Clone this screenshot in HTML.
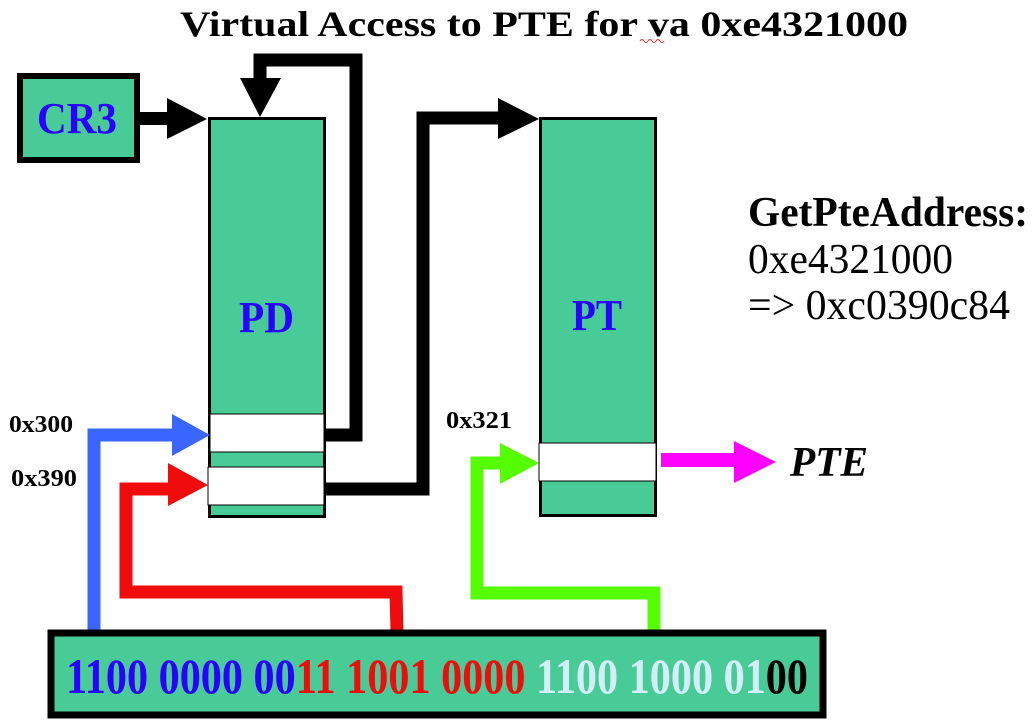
<!DOCTYPE html>
<html><head><meta charset="utf-8"><style>
html,body{margin:0;padding:0;background:#fff;}
svg{display:block;}
text{font-family:"Liberation Serif",serif;}
</style></head><body>
<svg width="1036" height="728" viewBox="0 0 1036 728" xmlns="http://www.w3.org/2000/svg">
<!-- Title -->
<text x="180" y="36" font-size="36" font-weight="bold" textLength="728" lengthAdjust="spacingAndGlyphs">Virtual Access to PTE for va 0xe4321000</text>
<path d="M640 41 q2 -3 4 0 t4 0 t4 0 t4 0 t4 0 t4 0" stroke="#d33" stroke-width="1" fill="none"/>

<!-- CR3 -->
<rect x="20" y="76" width="117" height="84" fill="#48cb97" stroke="#000" stroke-width="6"/>
<text x="37" y="133" font-size="44" font-weight="bold" fill="#2a00ff" textLength="80" lengthAdjust="spacingAndGlyphs">CR3</text>
<rect x="138" y="112" width="30" height="13" fill="#000"/>
<polygon points="167,98 207,119 167,139" fill="#000"/>

<!-- PD -->
<rect x="209.5" y="118.5" width="115" height="398" fill="#48cb97" stroke="#000" stroke-width="3"/>
<rect x="210" y="414" width="114" height="38" fill="#fff" stroke="#000" stroke-width="1"/>
<rect x="208" y="467" width="116" height="38" fill="#fff" stroke="#000" stroke-width="1"/>
<text x="239" y="332" font-size="44" font-weight="bold" fill="#2a00ff" textLength="55" lengthAdjust="spacingAndGlyphs">PD</text>

<!-- PD self loop -->
<polyline points="326,435 356,435 356,60 260,60 260,80" fill="none" stroke="#000" stroke-width="13"/>
<polygon points="240,78 281,78 260,117" fill="#000"/>

<!-- PD -> PT -->
<polyline points="326,489 423,489 423,118 500,118" fill="none" stroke="#000" stroke-width="13"/>
<polygon points="498,98 539,119 498,139" fill="#000"/>

<!-- PT -->
<rect x="540.5" y="118.5" width="115" height="397" fill="#48cb97" stroke="#000" stroke-width="3"/>
<rect x="539" y="443" width="117" height="38" fill="#fff" stroke="#000" stroke-width="1"/>
<text x="572" y="330" font-size="44" font-weight="bold" fill="#2a00ff" textLength="50" lengthAdjust="spacingAndGlyphs">PT</text>

<!-- magenta -->
<rect x="661" y="453" width="76" height="14" fill="#f0f"/>
<polygon points="734,441 776,462 734,483" fill="#f0f"/>
<text x="790" y="476" font-size="42" font-weight="bold" font-style="italic" textLength="78" lengthAdjust="spacingAndGlyphs">PTE</text>

<!-- right text -->
<text x="748" y="226" font-size="42" font-weight="bold" textLength="280" lengthAdjust="spacingAndGlyphs">GetPteAddress:</text>
<text x="748" y="273" font-size="42" textLength="205" lengthAdjust="spacingAndGlyphs">0xe4321000</text>
<text x="748" y="319" font-size="42" textLength="262" lengthAdjust="spacingAndGlyphs">=&gt; 0xc0390c84</text>

<!-- labels -->
<text x="9" y="432" font-size="24" font-weight="bold" textLength="64" lengthAdjust="spacingAndGlyphs">0x300</text>
<text x="11" y="486" font-size="24" font-weight="bold" textLength="66" lengthAdjust="spacingAndGlyphs">0x390</text>
<text x="446" y="428" font-size="24" font-weight="bold" textLength="66" lengthAdjust="spacingAndGlyphs">0x321</text>

<!-- blue -->
<polyline points="94,632 94,435 175,435" fill="none" stroke="#3a66ff" stroke-width="13"/>
<polygon points="172,414 210,435 172,456" fill="#3a66ff"/>

<!-- red -->
<polyline points="397,632 396,592 126,592 126,489 170,489" fill="none" stroke="#f00c0c" stroke-width="13"/>
<polygon points="168,463 208,485 168,506" fill="#f00c0c"/>

<!-- green -->
<polyline points="654,632 654,593 477,593 477,463 503,463" fill="none" stroke="#55ff00" stroke-width="13"/>
<polygon points="500,443 539,463 500,484" fill="#55ff00"/>

<!-- bottom box -->
<rect x="51" y="633" width="772" height="82" fill="#48cb97" stroke="#000" stroke-width="7"/>
<text x="66" y="693" font-size="50" font-weight="bold" textLength="742" lengthAdjust="spacingAndGlyphs"><tspan fill="#2a00ff">1100 0000 00</tspan><tspan fill="#f00c0c">11 1001 0000 </tspan><tspan fill="#d4eef8">1100 1000 01</tspan><tspan fill="#000">00</tspan></text>
</svg>
</body></html>
